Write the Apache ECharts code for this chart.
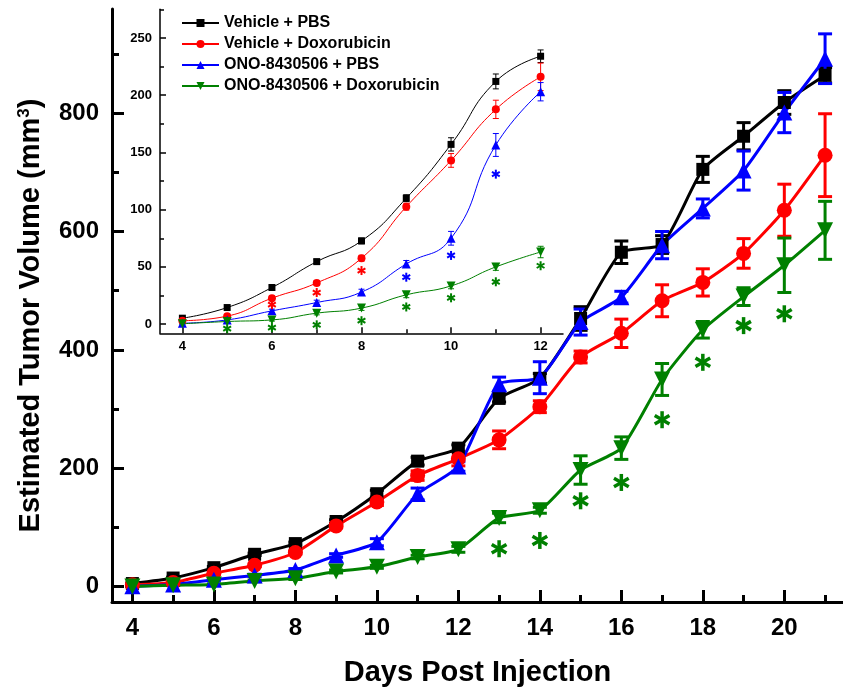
<!DOCTYPE html>
<html>
<head>
<meta charset="utf-8">
<script src="https://cdn.jsdelivr.net/npm/echarts@6/dist/echarts.min.js"></script>
<style>
    html, body { margin: 0; padding: 0; background: #fff; }
    #tumorChart { width: 843px; height: 694px; }
</style>
</head>
<body>
<div id="tumorChart"></div>
<script>
    // days after injection
    const days = [4, 5, 6, 7, 8, 9, 10, 11, 12, 13, 14, 15, 16, 17, 18, 19, 20, 21];
    const insetCount = 9; // inset shows days 4..12

    // mean tumour volume (mm3) and error
    const vehPbs    = [5.2, 14.5, 32, 54.6, 72.7, 110, 157, 212, 234, 318, 352, 453, 565, 578, 705, 761, 818, 864];
    const vehPbsErr = [1, 1.5, 2, 2, 2.5, 3, 5.8, 6.5, 5.5, 6, 8, 20, 19, 15, 22, 23, 20, 13];
    const vehDox    = [3, 7, 22.7, 36, 57.6, 102.6, 143, 187.6, 216, 248, 304, 388, 428, 483, 514, 563, 636, 729];
    const vehDoxErr = [1, 1.5, 2, 2, 2.5, 3, 6, 8, 12, 15, 10, 10, 24, 27, 23, 25, 44, 70];
    const onoPbs    = [0.8, 3.7, 11.6, 18.9, 28, 52.6, 75, 156.5, 203, 342, 353, 447, 489, 577, 639, 703, 801, 892];
    const onoPbsErr = [0.5, 1, 1.5, 2, 2.5, 3, 6, 10, 8, 12, 27, 22, 10, 23, 16, 33, 34, 42];
    const onoDox    = [0.3, 2.3, 3.7, 9.6, 14, 25.6, 33.4, 50, 63, 116, 129, 197, 234, 350, 434, 490, 543, 602];
    const onoDoxErr = [0.5, 0.5, 1, 1.5, 2, 2.5, 2.5, 3, 5, 8, 5, 24, 19, 27, 14, 15, 46, 49];

    // significance marks (*)
    const mainStarDays = [13, 14, 15, 16, 17, 18, 19, 20];
    const mainStarY    = [64, 78, 145, 176, 282, 379, 441, 461];
    const insetRedStarDays   = [6, 7, 8];
    const insetRedStarY      = [17, 27.6, 46.8];
    const insetBlueStarDays  = [9, 10, 11];
    const insetBlueStarY     = [41, 60, 131];
    const insetGreenStarDays = [5, 6, 7, 8, 9, 10, 11, 12];
    const insetGreenStarY    = [-4, -3, -0.6, 3, 15, 23, 37, 51];

    // ticks
    const mainXLabels = [4, 6, 8, 10, 12, 14, 16, 18, 20];
    const mainXMinor  = [5, 7, 9, 11, 13, 15, 17, 19, 21];
    const mainYLabels = [0, 200, 400, 600, 800];
    const mainYMinor  = [100, 300, 500, 700, 900];
    const insetXLabels = [4, 6, 8, 10, 12];
    const insetXMinor  = [5, 7, 9, 11];
    const insetYLabels = [0, 50, 100, 150, 200, 250];
    const insetYMinor  = [25, 75, 125, 175, 225, 275];

    const groups = [
        { name: 'Vehicle + PBS', data: vehPbs, err: vehPbsErr, color: '#000000', symbol: 'rect', main: 13, inset: 7, rotate: 0 },
        { name: 'Vehicle + Doxorubicin', data: vehDox, err: vehDoxErr, color: '#ff0000', symbol: 'circle', main: 15, inset: 8, rotate: 0 },
        { name: 'ONO-8430506 + PBS', data: onoPbs, err: onoPbsErr, color: '#0000ff', symbol: 'triangle', main: 16, inset: 9, rotate: 0 },
        { name: 'ONO-8430506 + Doxorubicin', data: onoDox, err: onoDoxErr, color: '#008000', symbol: 'triangle', main: 16, inset: 9, rotate: 180 }
    ];

    const font = 'Liberation Sans, Arial, Helvetica, sans-serif';

    function pairs(xs, ys) {
        return xs.map((x, i) => [x, ys[i]]);
    }

    function errorRender(color, lw, cap) {
        return function (params, api) {
            const x = api.value(0), y = api.value(1), e = api.value(2);
            const hi = api.coord([x, y + e]);
            const lo = api.coord([x, y - e]);
            const style = { stroke: color, lineWidth: lw };
            return {
                type: 'group',
                children: [
                    { type: 'line', shape: { x1: hi[0], y1: hi[1], x2: lo[0], y2: lo[1] }, style: style },
                    { type: 'line', shape: { x1: hi[0] - cap, y1: hi[1], x2: hi[0] + cap, y2: hi[1] }, style: style },
                    { type: 'line', shape: { x1: lo[0] - cap, y1: lo[1], x2: lo[0] + cap, y2: lo[1] }, style: style }
                ]
            };
        };
    }

    function starRender(color, r, lw) {
        return function (params, api) {
            const c = api.coord([api.value(0), api.value(1)]);
            const dx = r * Math.cos(Math.PI / 6), dy = r * Math.sin(Math.PI / 6);
            const style = { stroke: color, lineWidth: lw };
            return {
                type: 'group',
                children: [
                    { type: 'line', shape: { x1: c[0], y1: c[1] - r, x2: c[0], y2: c[1] + r }, style: style },
                    { type: 'line', shape: { x1: c[0] - dx, y1: c[1] - dy, x2: c[0] + dx, y2: c[1] + dy }, style: style },
                    { type: 'line', shape: { x1: c[0] - dx, y1: c[1] + dy, x2: c[0] + dx, y2: c[1] - dy }, style: style }
                ]
            };
        };
    }

    function majorAxis(gridIndex, pos, min, max, labels, opts) {
        return {
            type: 'value', gridIndex: gridIndex, position: pos, min: min, max: max,
            axisLine: { show: true, onZero: false, lineStyle: { color: '#000', width: opts.lw } },
            axisTick: { show: true, inside: true, length: opts.tick, customValues: labels, lineStyle: { color: '#000', width: opts.lw } },
            axisLabel: { customValues: labels, margin: opts.margin, color: '#000', fontSize: opts.fs, fontWeight: 'bold', fontFamily: font },
            splitLine: { show: false }
        };
    }

    function minorAxis(gridIndex, pos, min, max, ticks, opts) {
        return {
            type: 'value', gridIndex: gridIndex, position: pos, offset: 0, min: min, max: max,
            axisLine: { show: false, onZero: false },
            axisTick: { show: true, inside: true, length: opts.tick, customValues: ticks, lineStyle: { color: '#000', width: opts.lw } },
            axisLabel: { show: false, customValues: ticks },
            splitLine: { show: false }
        };
    }

    const mainOpts = { lw: 3, tick: 12, fs: 24 };
    const insetOpts = { lw: 1.5, tick: 6, fs: 13 };

    const xMainMajor = majorAxis(0, 'bottom', 3.5, 21.44, mainXLabels, Object.assign({ margin: 14 }, mainOpts));
    xMainMajor.name = 'Days Post Injection';
    xMainMajor.nameLocation = 'middle';
    xMainMajor.nameGap = 56;
    xMainMajor.nameTextStyle = { fontSize: 29, fontWeight: 'bold', fontFamily: font, color: '#000' };

    const yMainMajor = majorAxis(0, 'left', -26, 976, mainYLabels, Object.assign({ margin: 13 }, mainOpts));
    yMainMajor.name = 'Estimated Tumor Volume (mm{sup|3})';
    yMainMajor.nameLocation = 'middle';
    yMainMajor.nameRotate = 90;
    yMainMajor.nameGap = 66;
    yMainMajor.nameTextStyle = {
        fontSize: 29, fontWeight: 'bold', fontFamily: font, color: '#000', lineHeight: 30,
        padding: [0, 20, 0, 0],
        rich: { sup: { fontSize: 17, fontWeight: 'bold', fontFamily: font, color: '#000', verticalAlign: 'top', lineHeight: 17 } }
    };

    const series = [];

    // inset series first so the legend picks up their style
    groups.forEach(g => {
        series.push({
            name: g.name, type: 'line', xAxisIndex: 2, yAxisIndex: 2,
            data: pairs(days.slice(0, insetCount), g.data.slice(0, insetCount)), smooth: 0.5, color: g.color,
            symbol: g.symbol, symbolSize: g.inset, symbolRotate: g.rotate, showSymbol: true,
            lineStyle: { width: 1, color: g.color }, itemStyle: { color: g.color },
            z: 4, animation: false
        });
        series.push({
            name: g.name + ' err inset', type: 'custom', xAxisIndex: 2, yAxisIndex: 2,
            renderItem: errorRender(g.color, 1, 3),
            data: days.slice(0, insetCount).map((d, i) => [d, g.data[i], g.err[i]]),
            z: 3, animation: false
        });
    });

    groups.forEach(g => {
        series.push({
            name: g.name + ' err', type: 'custom', xAxisIndex: 0, yAxisIndex: 0,
            renderItem: errorRender(g.color, 3, 7),
            data: days.map((d, i) => [d, g.data[i], g.err[i]]),
            z: 3, animation: false
        });
        series.push({
            name: g.name, type: 'line', xAxisIndex: 0, yAxisIndex: 0,
            data: pairs(days, g.data), smooth: 0.2, color: g.color,
            symbol: g.symbol, symbolSize: g.main, symbolRotate: g.rotate, showSymbol: true,
            lineStyle: { width: 3, color: g.color }, itemStyle: { color: g.color },
            z: 4, animation: false
        });
    });

    series.push({
        name: 'stars main', type: 'custom', xAxisIndex: 0, yAxisIndex: 0,
        renderItem: starRender('#008000', 8.5, 3.5), data: pairs(mainStarDays, mainStarY), z: 5, animation: false
    });
    series.push({
        name: 'stars red', type: 'custom', xAxisIndex: 2, yAxisIndex: 2,
        renderItem: starRender('#ff0000', 4.5, 2), data: pairs(insetRedStarDays, insetRedStarY), z: 5, animation: false
    });
    series.push({
        name: 'stars blue', type: 'custom', xAxisIndex: 2, yAxisIndex: 2,
        renderItem: starRender('#0000ff', 4.5, 2), data: pairs(insetBlueStarDays, insetBlueStarY), z: 5, animation: false
    });
    series.push({
        name: 'stars green', type: 'custom', xAxisIndex: 2, yAxisIndex: 2,
        renderItem: starRender('#008000', 4.5, 2), data: pairs(insetGreenStarDays, insetGreenStarY), z: 5, animation: false
    });

    let myChart = echarts.init(document.getElementById('tumorChart'), null, { renderer: 'canvas' });
    myChart.setOption({
        backgroundColor: '#fff',
        animation: false,
        grid: [
            { left: 112, top: 9, width: 731, height: 593 },
            { left: 160, top: 9.3, width: 403, height: 324 }
        ],
        legend: {
            data: groups.map(g => g.name),
            orient: 'vertical',
            left: 176, top: 10,
            itemWidth: 37, itemHeight: 10, itemGap: 5,
            textStyle: { fontSize: 16, fontWeight: 'bold', fontFamily: font, color: '#000' }
        },
        xAxis: [
            xMainMajor,
            minorAxis(0, 'bottom', 3.5, 21.44, mainXMinor, { lw: 3, tick: 7 }),
            majorAxis(1, 'bottom', 3.5, 12.5, insetXLabels, Object.assign({ margin: 7 }, insetOpts)),
            minorAxis(1, 'bottom', 3.5, 12.5, insetXMinor, { lw: 1.5, tick: 4 })
        ],
        yAxis: [
            yMainMajor,
            minorAxis(0, 'left', -26, 976, mainYMinor, { lw: 3, tick: 7 }),
            majorAxis(1, 'left', -8, 275, insetYLabels, Object.assign({ margin: 8 }, insetOpts)),
            minorAxis(1, 'left', -8, 275, insetYMinor, { lw: 1.5, tick: 4 })
        ],
        series: series
    });
</script>
</body>
</html>
